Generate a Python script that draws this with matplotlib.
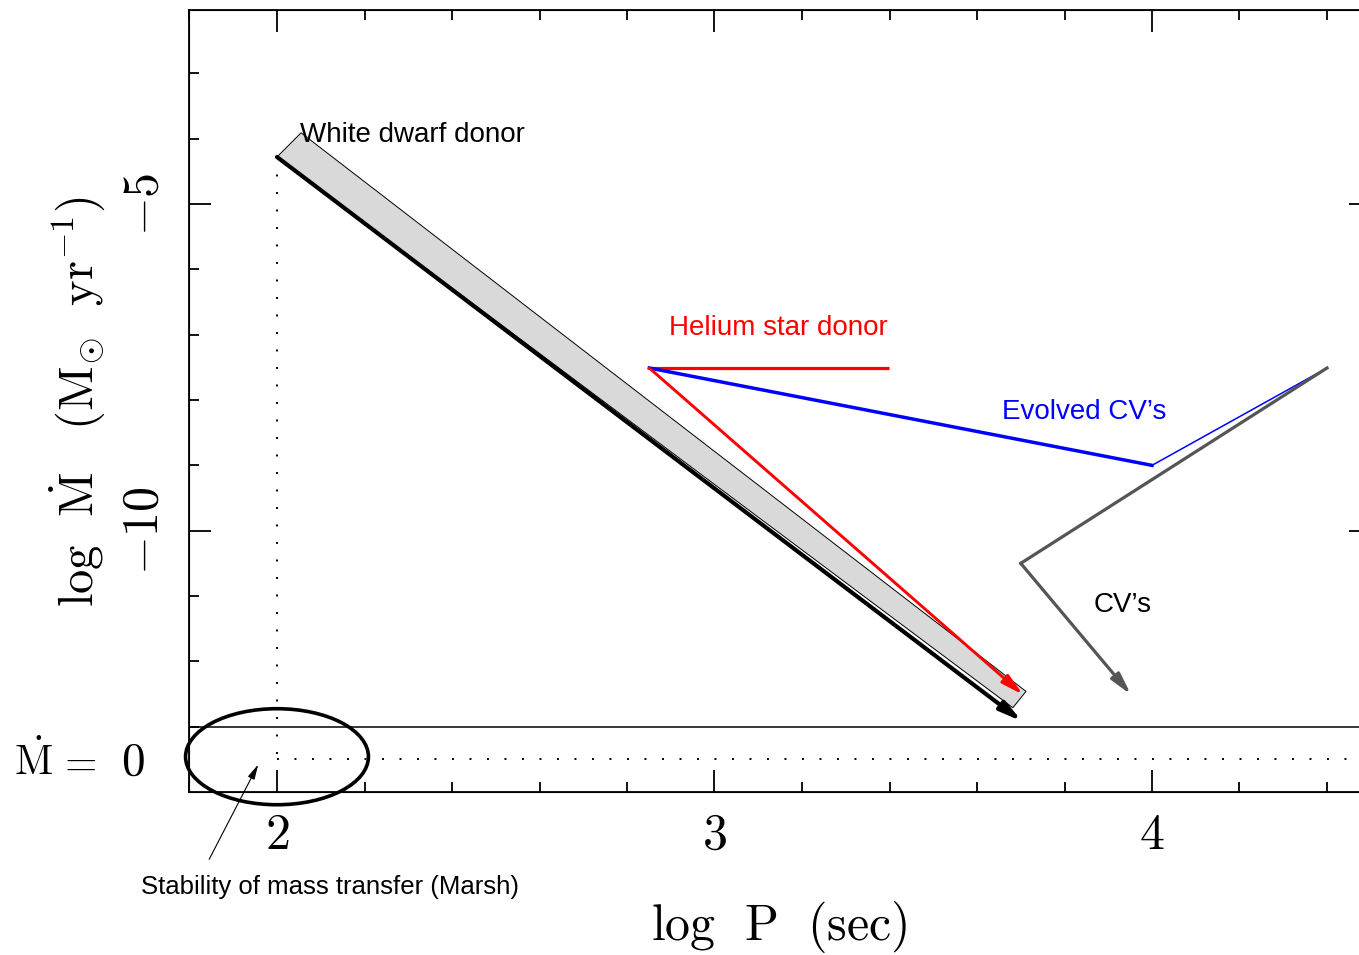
import numpy as np
import matplotlib
matplotlib.use('Agg')
import matplotlib.pyplot as plt
from matplotlib.patches import Polygon, Ellipse
from matplotlib.ticker import MultipleLocator, FixedLocator, NullLocator

plt.rcParams['mathtext.fontset'] = 'cm'
plt.rcParams['font.family'] = ['Liberation Sans', 'DejaVu Sans']

# white dwarf donor band (log P, log Mdot)
wd_band_x = [2.0, 2.055, 3.712, 3.682]
wd_band_y = [-4.28, -3.91, -12.46, -12.71]
wd_track_x = [2.0, 3.703]
wd_track_y = [-4.28, -12.92]

# helium star donor
he_flat_x = [2.851, 3.399]
he_flat_y = [-7.51, -7.51]
he_track_x = [2.851, 3.705]
he_track_y = [-7.51, -12.51]

# evolved CVs
evo_x = [2.851, 4.0, 4.4]
evo_y = [-7.51, -9.0, -7.51]

# CVs
cv_x = [4.4, 3.70, 3.952]
cv_y = [-7.51, -10.50, -12.51]

mdot_zero = -13.5
x_ticks = [2, 3, 4]
x_ticklabels = [r'$2$', r'$3$', r'$4$']
y_ticks = [-10, -5]
y_ticklabels = [r'$-10$', r'$-5$']

W, H = 1359, 955
fig = plt.figure(figsize=(W / 100, H / 100), dpi=100)
# right spine sits just outside the picture, as in the original
ax = fig.add_axes([189 / W, 1 - 792 / H, (1371 - 189) / W, (792 - 10) / H])
ax.set_xlim(2 - 88 / 437.5, 4 + 219 / 437.5)
ax.set_ylim(-14, -2.03)

for s in ax.spines.values():
    s.set_linewidth(1.3)

ax.set_xticks(x_ticks)
ax.set_xticklabels(x_ticklabels, fontsize=36)
ax.xaxis.set_minor_locator(MultipleLocator(0.2))
ax.set_yticks(y_ticks)
ax.set_yticklabels(y_ticklabels, fontsize=36, rotation=90, va='center')
ax.yaxis.set_minor_locator(FixedLocator(np.arange(-13, -2)))
ax.tick_params(axis='x', which='both', direction='in', top=True, width=1.3)
ax.tick_params(axis='y', which='both', direction='in', right=False, width=1.3)
ax.tick_params(which='major', length=15.5)
ax.tick_params(which='minor', length=7.5)
ax.tick_params(axis='x', which='major', pad=15)
ax.tick_params(axis='y', which='major', pad=15)

# right-hand axis: major ticks only
axr = ax.twinx()
axr.set_ylim(ax.get_ylim())
axr.set_yticks(y_ticks)
axr.yaxis.set_minor_locator(NullLocator())
axr.tick_params(axis='y', direction='in', length=15.5, width=1.3, labelright=False)
axr.spines['right'].set_linewidth(1.3)

# M-dot = 0 strip
ax.axhline(-13, color='black', lw=1.1)
ax.plot([2.0, 4.6], [mdot_zero, mdot_zero], color='black', lw=1.4,
        linestyle=(0, (1, 8)))
ax.plot([2.0, 2.0], [wd_track_y[0], mdot_zero], color='black', lw=1.4,
        linestyle=(0, (1, 8)))

# white dwarf band
ax.add_patch(Polygon(np.column_stack([wd_band_x, wd_band_y]), closed=True,
                     facecolor='#d9d9d9', edgecolor='black', lw=0.7))


def arrow(x, y, color, lw, hl=1.3, hw=0.32):
    ax.annotate('', xy=(x[1], y[1]), xytext=(x[0], y[0]),
                arrowprops=dict(arrowstyle=f'-|>,head_length={hl},head_width={hw}',
                                color=color, lw=lw, shrinkA=0, shrinkB=0))


arrow(wd_track_x, wd_track_y, 'black', 3.0)

ax.plot(he_flat_x, he_flat_y, color='red', lw=2.3, solid_capstyle='butt')
arrow(he_track_x, he_track_y, 'red', 2.1)

ax.plot(evo_x[:2], evo_y[:2], color='blue', lw=2.5)
ax.plot(evo_x[1:], evo_y[1:], color='blue', lw=1.1)

ax.plot(cv_x[:2], cv_y[:2], color='#555555', lw=2.3)
arrow(cv_x[1:], cv_y[1:], '#555555', 2.3)

# labels inside
ax.text(2.053, -3.95, 'White dwarf donor', fontsize=20, ha='left', va='center')
ax.text(3.147, -6.9, 'Helium star donor', fontsize=20, color='red', ha='center', va='center')
ax.text(3.845, -8.19, 'Evolved CV\u2019s', fontsize=20, color='blue', ha='center', va='center')
ax.text(3.934, -11.14, 'CV\u2019s', fontsize=20, ha='center', va='center')

# stability ellipse
ax.add_patch(Ellipse((2.0, -13.46), 0.418, 1.47, fill=False, edgecolor='black',
                     lw=2.6, clip_on=False))
ax.annotate('', xy=(1.957, -13.58), xytext=(1.845, -15.03), annotation_clip=False,
            arrowprops=dict(arrowstyle='-|>,head_length=0.9,head_width=0.22',
                            color='black', lw=0.8, shrinkA=0, shrinkB=0))
ax.text(2.121, -15.45, 'Stability of mass transfer (Marsh)', fontsize=18.5,
        ha='center', va='center', clip_on=False)

# axis labels
fig.text(779 / W, 1 - 927 / H, r'$\mathrm{log\ \ P\ \ (sec)}$', fontsize=36,
         ha='center', va='center')
fig.text(77 / W, 1 - 402 / H,
         r'$\mathrm{log\ \ \dot{M}\ \ \ (M_{\odot}\ \ yr^{-1})}$', fontsize=35,
         ha='center', va='center', rotation=90)
fig.text(14 / W, 1 - 775 / H, r'$\mathrm{\dot{M}}$', fontsize=30,
         ha='left', va='baseline')
fig.text(77 / W, 1 - 775 / H, r'$=$', fontsize=30, ha='center', va='baseline')
fig.text(133 / W, 1 - 775 / H, r'$0$', fontsize=34, ha='center', va='baseline')

fig.savefig('out.png', dpi=100)
